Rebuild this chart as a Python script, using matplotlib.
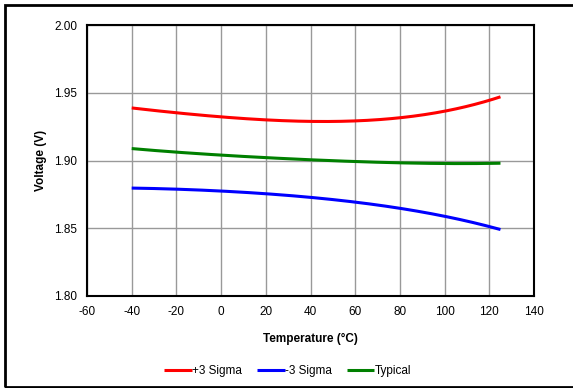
import matplotlib.pyplot as plt
import numpy as np
from matplotlib.patches import Rectangle

# --- Data ---
temps = [-40, -20, 0, 20, 40, 60, 80, 100, 125]
plus3_sigma = [1.9387, 1.9355, 1.9320, 1.9298, 1.9290, 1.9295, 1.9312, 1.9365, 1.9470]
minus3_sigma = [1.8797, 1.8787, 1.8775, 1.8756, 1.8728, 1.8692, 1.8646, 1.8590, 1.8490]
typical = [1.9088, 1.9062, 1.9040, 1.9020, 1.9006, 1.8993, 1.8982, 1.8978, 1.8980]

xticks = np.arange(-60, 141, 20)
yticks = [1.80, 1.85, 1.90, 1.95, 2.00]

plt.rcParams['font.family'] = ['Liberation Sans', 'DejaVu Sans']
plt.rcParams['axes.unicode_minus'] = False

fig = plt.figure(figsize=(5.73, 3.88), dpi=100)
W, H = 573, 388
ax = fig.add_axes([87 / W, 1 - 296 / H, (534 - 87) / W, (296 - 25) / H])

# smooth curves through the read points
def smooth(x, y):
    xs = np.linspace(min(x), max(x), 200)
    coeffs = np.polyfit(x, y, 4)
    return xs, np.polyval(coeffs, xs)

for y, c, lab in [(plus3_sigma, '#ff0000', '+3 Sigma'),
                  (minus3_sigma, '#0000ff', '-3 Sigma'),
                  (typical, '#008000', 'Typical')]:
    xs, ys = smooth(temps, y)
    ax.plot(xs, ys, color=c, lw=2.2, label=lab, solid_capstyle='butt')

ax.set_xlim(-60, 140)
ax.set_ylim(1.80, 2.00)
ax.set_xticks(xticks)
ax.set_yticks(yticks)
ax.set_yticklabels([f"{v:.2f}" for v in yticks])
ax.grid(True, color='#999999', lw=1.0)
ax.set_axisbelow(True)
ax.tick_params(length=0, labelsize=8.5, pad=7)
for s in ax.spines.values():
    s.set_linewidth(1.5)
    s.set_color('black')

ax.set_xlabel("Temperature (°C)", fontsize=8.5, fontweight='bold', labelpad=11)
ax.set_ylabel("Voltage (V)", fontsize=8.5, fontweight='bold', labelpad=5)

fig.legend(loc='center', bbox_to_anchor=(288 / W, 1 - 371 / H), ncol=3,
           frameon=False, fontsize=8.5, handlelength=2.3, handletextpad=0.05,
           columnspacing=1.3)

fig.patches.append(Rectangle((5 / W, 1 / H), 570 / W, 382 / H, transform=fig.transFigure,
                             fill=False, ec='black', lw=2))

fig.savefig("out.png", dpi=100)
